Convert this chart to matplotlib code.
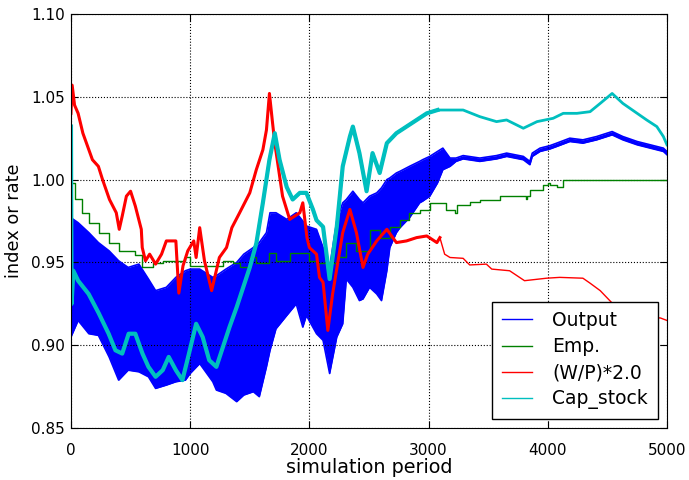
import numpy as np
import matplotlib
matplotlib.use("Agg")
import matplotlib.pyplot as plt

# Output: upper / lower edge of the oscillating band
out_t = [0, 60, 150, 230, 320, 400, 480, 570, 650, 710, 800, 880, 960, 1000,
         1080, 1190, 1220, 1300, 1390, 1450, 1530, 1580, 1640, 1670, 1720, 1810,
         1890, 1945, 1975, 2060, 2115, 2170, 2230, 2280, 2310, 2365, 2420, 2450,
         2505, 2565, 2605, 2650, 2675, 2730, 2760, 2840, 2925, 2950, 3010, 3075,
         3120, 3180, 3230, 3290, 3430, 3570, 3655, 3795, 3850, 3870, 3935, 4018,
         4075, 4185, 4295, 4410, 4540, 4630, 4750, 4860, 4970, 5000]
out_hi = [0.977, 0.974, 0.968, 0.962, 0.957, 0.951, 0.947, 0.949, 0.940, 0.933,
          0.935, 0.941, 0.945, 0.946, 0.946, 0.941, 0.942, 0.946, 0.950, 0.955,
          0.959, 0.962, 0.968, 0.980, 0.980, 0.976, 0.980, 0.975, 0.972, 0.970,
          0.959, 0.947, 0.975, 0.986, 0.988, 0.993, 0.988, 0.986, 0.990, 0.992,
          0.995, 1.000, 1.001, 1.004, 1.005, 1.008, 1.011, 1.012, 1.014, 1.017,
          1.019, 1.013, 1.013, 1.0145, 1.013, 1.0145, 1.016, 1.014, 1.011, 1.016,
          1.019, 1.0205, 1.022, 1.025, 1.024, 1.026, 1.029, 1.026, 1.023, 1.021,
          1.019, 1.017]
out_lo = [0.905, 0.915, 0.907, 0.906, 0.893, 0.879, 0.885, 0.884, 0.881, 0.874,
          0.876, 0.878, 0.879, 0.883, 0.889, 0.878, 0.873, 0.871, 0.866, 0.870,
          0.872, 0.869, 0.887, 0.897, 0.910, 0.918, 0.925, 0.911, 0.918, 0.907,
          0.903, 0.883, 0.905, 0.913, 0.940, 0.935, 0.927, 0.928, 0.935, 0.931,
          0.927, 0.945, 0.959, 0.968, 0.971, 0.977, 0.986, 0.987, 0.990, 0.998,
          1.006, 1.008, 1.011, 1.0125, 1.011, 1.0125, 1.014, 1.012, 1.009, 1.014,
          1.017, 1.0185, 1.020, 1.023, 1.022, 1.024, 1.027, 1.024, 1.021, 1.019,
          1.017, 1.015]

emp_t = [0, 38, 94, 148, 232, 316, 400, 484, 540, 600, 685, 770, 880, 960, 1000,
         1220, 1275, 1360, 1415, 1500, 1555, 1665, 1720, 1835, 2000, 2060, 2145,
         2230, 2310, 2395, 2505, 2590, 2675, 2760, 2840, 2925, 3010, 3120, 3150,
         3220, 3235, 3345, 3430, 3600, 3800, 3820, 3830, 3850, 3960, 4000, 4018,
         4075, 4130, 5000]
emp_v = [0.998, 0.988, 0.980, 0.974, 0.968, 0.962, 0.957, 0.957, 0.9545, 0.947,
         0.9495, 0.951, 0.951, 0.953, 0.948, 0.948, 0.951, 0.9495, 0.947, 0.953,
         0.9495, 0.9555, 0.951, 0.9555, 0.951, 0.9495, 0.9495, 0.953, 0.9615, 0.957,
         0.9695, 0.965, 0.9715, 0.9755, 0.980, 0.9815, 0.986, 0.986, 0.9815, 0.980,
         0.9845, 0.9865, 0.9875, 0.990, 0.990, 0.988, 0.990, 0.9935, 0.9965, 0.998,
         0.9965, 0.9955, 1.000, 1.000]

wp_t = [0, 10, 30, 60, 100, 140, 180, 230, 265, 323, 380, 405, 430, 465, 500,
        540, 590, 598, 625, 660, 710, 760, 800, 880, 905, 940, 980, 1030, 1050,
        1080, 1120, 1180, 1245, 1305, 1350, 1415, 1500, 1555, 1610, 1640, 1665,
        1690, 1710, 1775, 1835, 1920, 1945, 1980, 2000, 2060, 2085, 2115, 2155,
        2195, 2280, 2340, 2395, 2450, 2490, 2565, 2650, 2730, 2815, 2900, 2985,
        3070, 3095, 3135, 3180, 3290, 3345, 3485, 3530, 3680, 3805, 3990, 4100,
        4295, 4355, 4440, 4520, 4600, 4700, 4800, 4945, 5000]
wp_v = [1.040, 1.057, 1.045, 1.040, 1.028, 1.020, 1.012, 1.008, 1.000, 0.988,
        0.980, 0.970, 0.978, 0.990, 0.993, 0.984, 0.970, 0.959, 0.951, 0.955,
        0.949, 0.955, 0.963, 0.963, 0.9315, 0.948, 0.957, 0.963, 0.953, 0.971,
        0.951, 0.933, 0.953, 0.959, 0.971, 0.980, 0.992, 1.006, 1.018, 1.030,
        1.052, 1.035, 1.022, 0.990, 0.976, 0.980, 0.986, 0.965, 0.959, 0.955,
        0.941, 0.938, 0.909, 0.931, 0.968, 0.982, 0.968, 0.947, 0.955, 0.963,
        0.970, 0.962, 0.963, 0.965, 0.966, 0.962, 0.965, 0.955, 0.953, 0.9525,
        0.9485, 0.949, 0.946, 0.945, 0.939, 0.9405, 0.941, 0.9405, 0.9375, 0.933,
        0.927, 0.921, 0.918, 0.917, 0.9165, 0.915]

cap_t = [0, 5, 20, 60, 148, 232, 316, 373, 430, 484, 540, 600, 650, 710, 770,
         820, 880, 935, 990, 1050, 1105, 1160, 1220, 1275, 1330, 1390, 1445, 1500,
         1555, 1610, 1665, 1710, 1750, 1810, 1860, 1920, 1975, 2030, 2060, 2115,
         2170, 2230, 2280, 2340, 2365, 2420, 2480, 2530, 2590, 2650, 2730, 2815,
         2900, 2985, 3075, 3180, 3290, 3430, 3570, 3655, 3795, 3910, 4045, 4130,
         4245, 4355, 4440, 4540, 4630, 4750, 4830, 4915, 4970, 5000]
cap_v = [1.032, 0.925, 0.945, 0.939, 0.931, 0.9195, 0.907, 0.897, 0.895, 0.907,
         0.907, 0.895, 0.887, 0.881, 0.885, 0.893, 0.885, 0.879, 0.895, 0.913,
         0.905, 0.891, 0.887, 0.899, 0.911, 0.923, 0.935, 0.947, 0.9615, 0.986,
         1.012, 1.028, 1.012, 0.9955, 0.988, 0.992, 0.992, 0.982, 0.9755, 0.9715,
         0.940, 0.9715, 1.008, 1.026, 1.032, 1.016, 0.993, 1.016, 1.004, 1.022,
         1.028, 1.032, 1.036, 1.040, 1.042, 1.042, 1.042, 1.038, 1.035, 1.036,
         1.031, 1.035, 1.037, 1.040, 1.040, 1.041, 1.046, 1.052, 1.046, 1.040,
         1.036, 1.032, 1.026, 1.021]

out_t, out_hi, out_lo = np.array(out_t), np.array(out_hi), np.array(out_lo)
wp_t, wp_v = np.array(wp_t), np.array(wp_v)
cap_t, cap_v = np.array(cap_t), np.array(cap_v)

plt.rcParams['font.family'] = 'DejaVu Sans'
fig = plt.figure(figsize=(6.89, 4.80), dpi=100)
ax = fig.add_axes([0.103, 0.108, 0.865, 0.863])

# Output band
ax.fill_between(out_t, out_lo, out_hi, color='b', lw=0)
ax.plot(out_t, out_hi, color='b', lw=1.2, label='Output')
ax.plot(out_t, out_lo, color='b', lw=1.2)

ax.plot(emp_t, emp_v, color='g', lw=1.0, drawstyle='steps-post', label='Emp.')

# noisy early parts drawn thicker
early = wp_t <= 3100
ax.plot(wp_t, wp_v, color='r', lw=1.0, label='(W/P)*2.0')
ax.plot(wp_t[early], wp_v[early], color='r', lw=2.2)

early_c = cap_t <= 3100
ax.plot(cap_t, cap_v, color='c', lw=2.0, label='Cap_stock')
ax.plot(cap_t[early_c], cap_v[early_c], color='c', lw=3.0)

ax.set_xlim(0, 5000)
ax.set_ylim(0.85, 1.10)
ax.set_xticks([0, 1000, 2000, 3000, 4000, 5000])
ax.set_yticks([0.85, 0.90, 0.95, 1.00, 1.05, 1.10])
ax.set_yticklabels(['0.85', '0.90', '0.95', '1.00', '1.05', '1.10'])
ax.tick_params(direction='in', top=True, right=True, labelsize=11, length=5)
ax.tick_params(axis='x', pad=11)
ax.tick_params(axis='y', pad=4.5)
ax.grid(True, color='k', linestyle=':', linewidth=0.8)
ax.set_xlabel('simulation period', fontsize=13.8, labelpad=0)
ax.set_ylabel('index or rate', fontsize=12.8, labelpad=6)

leg = ax.legend(loc='lower right', fontsize=13.5, fancybox=False, framealpha=1,
                edgecolor='k', handlelength=1.6, handletextpad=1.1,
                labelspacing=0.38, borderpad=0.5, borderaxespad=0.5)
leg.get_frame().set_linewidth(1.0)
for line in leg.get_lines():
    line.set_linewidth(1.0)

fig.savefig('out.png', dpi=100)
